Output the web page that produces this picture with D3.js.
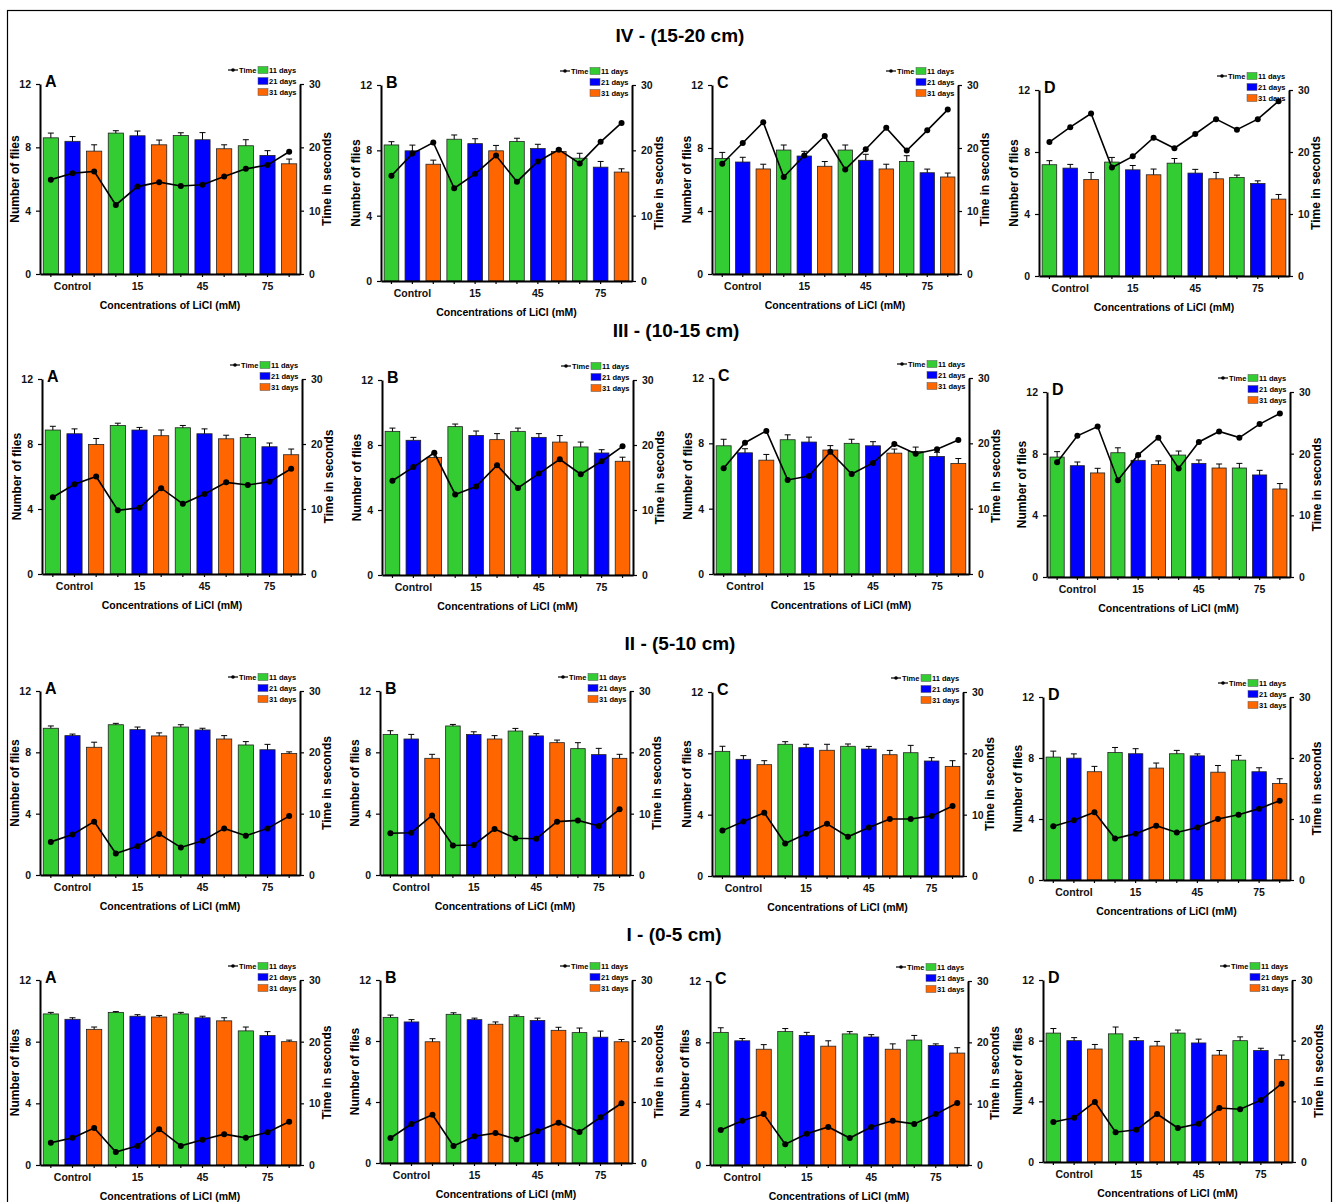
<!DOCTYPE html>
<html>
<head>
<meta charset="utf-8">
<script src="https://cdn.jsdelivr.net/npm/d3@7"></script>
<style>
  body { margin: 0; background: #fff; }
  svg { display: block; font-family: "Liberation Sans", Arial, sans-serif; }
</style>
</head>
<body>
<div id="chart"></div>
<script>
// categories
const concentrations = ['Control', '15', '45', '75'];
const days = ['11 days', '21 days', '31 days'];
const dayColors = ['#33cc33', '#0000ff', '#ff6600'];
const leftTicks = [0, 4, 8, 12];
const rightTicks = [0, 10, 20, 30];
const rowTitles = ['IV - (15-20 cm)', 'III - (10-15 cm)', 'II - (5-10 cm)', 'I - (0-5 cm)'];
const panelLetters = ['A', 'B', 'C', 'D'];

// number of flies, order: Control(11,21,31), 15(...), 45(...), 75(...)
const fliesIV = [
  [8.6, 8.38, 7.76, 8.9, 8.73, 8.16, 8.75, 8.48, 7.91, 8.1, 7.49, 6.96],
  [8.33, 7.97, 7.15, 8.68, 8.41, 7.97, 8.54, 8.11, 7.93, 7.52, 6.97, 6.67],
  [7.34, 7.11, 6.67, 7.87, 7.49, 6.84, 7.87, 7.22, 6.67, 7.15, 6.43, 6.16],
  [7.18, 6.96, 6.23, 7.35, 6.85, 6.53, 7.28, 6.64, 6.27, 6.36, 5.97, 4.96]
];
const errIV = [
  [0.3, 0.3, 0.4, 0.15, 0.3, 0.3, 0.17, 0.45, 0.25, 0.38, 0.3, 0.3],
  [0.2, 0.35, 0.25, 0.26, 0.3, 0.33, 0.2, 0.26, 0.16, 0.3, 0.35, 0.2],
  [0.38, 0.3, 0.3, 0.32, 0.3, 0.3, 0.32, 0.38, 0.3, 0.36, 0.23, 0.25],
  [0.26, 0.24, 0.45, 0.3, 0.28, 0.37, 0.3, 0.24, 0.41, 0.15, 0.17, 0.3]
];
const timeIV = [
  [14.9, 15.9, 16.2, 10.9, 13.8, 14.5, 13.9, 14.1, 15.4, 16.6, 17.2, 19.3],
  [16.1, 19.5, 21.2, 14.2, 16.4, 19.2, 15.2, 18.3, 20.1, 18.0, 21.3, 24.2],
  [17.5, 20.8, 24.1, 15.4, 18.8, 21.9, 16.6, 19.8, 23.2, 19.6, 22.8, 26.1],
  [21.6, 24.0, 26.2, 17.5, 19.3, 22.3, 20.6, 22.9, 25.3, 23.6, 25.3, 28.2]
];

const fliesIII = [
  [8.86, 8.63, 7.97, 9.14, 8.86, 8.51, 9.0, 8.63, 8.32, 8.4, 7.83, 7.34],
  [8.84, 8.29, 7.24, 9.13, 8.59, 8.33, 8.84, 8.47, 8.18, 7.88, 7.51, 7.0],
  [7.85, 7.42, 6.97, 8.22, 8.08, 7.59, 8.0, 7.85, 7.4, 7.5, 7.2, 6.77],
  [7.78, 7.22, 6.75, 8.06, 7.57, 7.29, 7.91, 7.37, 7.07, 7.07, 6.62, 5.71]
];
const errIII = [
  [0.23, 0.3, 0.37, 0.14, 0.16, 0.35, 0.14, 0.3, 0.22, 0.18, 0.23, 0.35],
  [0.2, 0.18, 0.25, 0.16, 0.27, 0.37, 0.2, 0.23, 0.4, 0.3, 0.2, 0.25],
  [0.4, 0.25, 0.35, 0.3, 0.3, 0.27, 0.25, 0.25, 0.25, 0.27, 0.25, 0.3],
  [0.35, 0.24, 0.3, 0.32, 0.24, 0.24, 0.26, 0.22, 0.26, 0.3, 0.3, 0.35]
];
const timeIII = [
  [11.8, 13.8, 15.0, 9.8, 10.2, 13.2, 10.8, 12.3, 14.1, 13.7, 14.2, 16.2],
  [14.5, 16.6, 18.8, 12.4, 13.6, 16.9, 13.4, 15.6, 17.8, 15.5, 17.5, 19.8],
  [16.2, 20.1, 21.9, 14.4, 15.0, 18.7, 15.3, 17.0, 19.9, 18.4, 19.1, 20.5],
  [18.6, 22.9, 24.4, 15.7, 19.8, 22.6, 17.6, 21.9, 23.6, 22.6, 24.8, 26.5]
];

const fliesII = [
  [9.57, 9.09, 8.33, 9.8, 9.48, 9.07, 9.65, 9.46, 8.87, 8.48, 8.17, 7.93],
  [9.17, 8.87, 7.61, 9.72, 9.17, 8.87, 9.39, 9.07, 8.63, 8.24, 7.85, 7.61],
  [8.13, 7.61, 7.26, 8.59, 8.37, 8.2, 8.46, 8.28, 7.91, 8.04, 7.5, 7.15],
  [8.06, 7.99, 7.1, 8.36, 8.28, 7.34, 8.28, 8.14, 7.07, 7.86, 7.1, 6.33]
];
const errII = [
  [0.15, 0.1, 0.33, 0.09, 0.17, 0.2, 0.15, 0.11, 0.22, 0.22, 0.35, 0.1],
  [0.24, 0.3, 0.26, 0.1, 0.17, 0.22, 0.17, 0.15, 0.17, 0.39, 0.41, 0.26],
  [0.33, 0.24, 0.26, 0.17, 0.22, 0.39, 0.15, 0.17, 0.28, 0.48, 0.22, 0.37],
  [0.39, 0.28, 0.35, 0.33, 0.33, 0.33, 0.22, 0.13, 0.44, 0.31, 0.26, 0.31]
];
const timeII = [
  [5.4, 6.6, 8.7, 3.5, 4.7, 6.7, 4.5, 5.6, 7.6, 6.4, 7.6, 9.6],
  [6.8, 6.9, 9.7, 4.8, 4.9, 7.5, 6.0, 5.9, 8.7, 8.9, 8.0, 10.7],
  [7.4, 8.9, 10.3, 5.3, 6.9, 8.5, 6.4, 7.9, 9.3, 9.3, 9.8, 11.4],
  [8.8, 9.8, 11.1, 6.8, 7.6, 8.9, 7.8, 8.6, 10.0, 10.7, 11.7, 13.0]
];

const fliesI = [
  [9.8, 9.45, 8.8, 9.9, 9.65, 9.6, 9.8, 9.55, 9.35, 8.7, 8.4, 8.0],
  [9.55, 9.25, 7.95, 9.75, 9.4, 9.1, 9.6, 9.35, 8.7, 8.55, 8.25, 7.95],
  [8.65, 8.1, 7.55, 8.7, 8.45, 7.75, 8.55, 8.35, 7.55, 8.15, 7.8, 7.3],
  [8.5, 8.0, 7.45, 8.45, 8.0, 7.65, 8.5, 7.85, 7.05, 8.0, 7.35, 6.75]
];
const errI = [
  [0.1, 0.1, 0.15, 0.05, 0.1, 0.1, 0.1, 0.1, 0.2, 0.25, 0.25, 0.1],
  [0.15, 0.15, 0.2, 0.1, 0.1, 0.15, 0.1, 0.15, 0.2, 0.3, 0.4, 0.15],
  [0.3, 0.15, 0.3, 0.2, 0.2, 0.35, 0.15, 0.15, 0.35, 0.3, 0.1, 0.35],
  [0.3, 0.2, 0.3, 0.45, 0.2, 0.3, 0.2, 0.25, 0.3, 0.25, 0.15, 0.3]
];
const timeI = [
  [3.6, 4.4, 6.0, 2.1, 3.1, 5.8, 3.1, 4.1, 5.0, 4.4, 5.3, 7.0],
  [4.1, 6.4, 7.9, 2.8, 4.4, 4.9, 3.9, 5.2, 6.6, 5.1, 7.5, 9.8],
  [5.7, 7.2, 8.3, 3.4, 5.1, 6.2, 4.4, 6.2, 7.2, 6.7, 8.3, 10.1],
  [6.6, 7.3, 9.9, 4.9, 5.3, 7.9, 5.6, 6.3, 8.9, 8.7, 10.2, 12.9]
];

const rowsFlies = [fliesIV, fliesIII, fliesII, fliesI];
const rowsErr = [errIV, errIII, errII, errI];
const rowsTime = [timeIV, timeIII, timeII, timeI];

// layout: [left axis x, right axis x, y of 0, y of top]
const panelFrames = [
  [[40, 300, 274, 84], [381, 632, 281, 85], [712, 958, 274, 85], [1039, 1289, 276, 90]],
  [[42, 302, 574, 379], [382, 633, 575, 380], [713, 969, 574, 378], [1047, 1290, 577, 392]],
  [[40, 300, 875, 691], [380, 630, 875, 691], [712, 963, 876, 692], [1043, 1290, 880, 697]],
  [[40, 300, 1165, 980], [380, 632, 1163, 980], [710, 968, 1165, 981], [1043, 1292, 1162, 980]]
];
const titlePos = [[680, 42], [676, 337], [680, 650], [674, 941]];

const W = 1336, H = 1202;
const svg = d3.select('#chart').append('svg')
  .attr('width', W)
  .attr('height', H);

svg.append('rect')
  .attr('x', 7.5).attr('y', 10.5)
  .attr('width', 1324).attr('height', 1200)
  .attr('fill', 'none')
  .attr('stroke', '#000')
  .attr('stroke-width', 1.2);

rowTitles.forEach((t, r) => {
  svg.append('text')
    .attr('x', titlePos[r][0])
    .attr('y', titlePos[r][1])
    .attr('text-anchor', 'middle')
    .style('font-size', '19px')
    .style('font-weight', 'bold')
    .text(t);
});

const drawPanel = (r, p) => {
  let [left, right, y0, yTop] = panelFrames[r][p];
  let flies = rowsFlies[r][p];
  let err = rowsErr[r][p];
  let time = rowsTime[r][p];
  let idx = d3.range(flies.length);

  let x = d3.scaleBand()
    .domain(idx)
    .range([left, right])
    .paddingInner(0.3)
    .paddingOuter(0.15);
  let yL = d3.scaleLinear().domain([0, 12]).range([y0, yTop]);
  let yR = d3.scaleLinear().domain([0, 30]).range([y0, yTop]);

  let g = svg.append('g').attr('class', 'panel');

  // bars
  g.selectAll('.bar')
    .data(idx)
    .enter().append('rect')
    .attr('class', 'bar')
    .attr('x', i => x(i))
    .attr('y', i => yL(flies[i]))
    .attr('width', x.bandwidth())
    .attr('height', i => y0 - yL(flies[i]))
    .attr('fill', i => dayColors[i % 3])
    .attr('stroke', '#222')
    .attr('stroke-width', 0.8);

  // error bars
  let cx = i => x(i) + x.bandwidth() / 2;
  g.selectAll('.err')
    .data(idx)
    .enter().append('path')
    .attr('class', 'err')
    .attr('d', i => {
      let top = yL(flies[i] + err[i]);
      return `M${cx(i)},${yL(flies[i])}V${top}M${cx(i) - 3},${top}H${cx(i) + 3}`;
    })
    .attr('stroke', '#000')
    .attr('stroke-width', 1)
    .attr('fill', 'none');

  // axes
  let axL = g.append('g')
    .attr('transform', `translate(${left},0)`)
    .call(d3.axisLeft(yL).tickValues(leftTicks).tickSize(4).tickSizeOuter(0).tickPadding(5));
  let axR = g.append('g')
    .attr('transform', `translate(${right},0)`)
    .call(d3.axisRight(yR).tickValues(rightTicks).tickSize(4).tickSizeOuter(0).tickPadding(5));
  let axB = g.append('g')
    .attr('transform', `translate(0,${y0})`)
    .call(d3.axisBottom(x)
      .tickSize(3)
      .tickSizeOuter(0)
      .tickPadding(6)
      .tickFormat(i => (i % 3 === 1 ? concentrations[Math.floor(i / 3)] : '')));

  [axL, axR, axB].forEach(ax => {
    ax.select('.domain').attr('stroke-width', 2);
    ax.selectAll('.tick line').attr('stroke-width', 1.2);
    ax.selectAll('text')
      .style('font-size', '10.5px')
      .style('font-weight', 'bold')
      .style('font-family', '"Liberation Sans", Arial, sans-serif')
      .attr('fill', '#111');
  });

  // time line
  let line = d3.line()
    .x(i => cx(i))
    .y(i => yR(time[i]));
  g.append('path')
    .datum(idx)
    .attr('d', line)
    .attr('fill', 'none')
    .attr('stroke', '#000')
    .attr('stroke-width', 1.6);
  g.selectAll('.pt')
    .data(idx)
    .enter().append('circle')
    .attr('class', 'pt')
    .attr('cx', i => cx(i))
    .attr('cy', i => yR(time[i]))
    .attr('r', 3)
    .attr('fill', '#000');

  // axis titles
  g.append('text')
    .attr('transform', `translate(${left - 21},${(y0 + yTop) / 2}) rotate(-90)`)
    .attr('text-anchor', 'middle')
    .style('font-size', '12px')
    .style('font-weight', 'bold')
    .text('Number of flies');
  g.append('text')
    .attr('transform', `translate(${right + 31},${(y0 + yTop) / 2}) rotate(-90)`)
    .attr('text-anchor', 'middle')
    .style('font-size', '12px')
    .style('font-weight', 'bold')
    .text('Time in seconds');
  g.append('text')
    .attr('x', (left + right) / 2)
    .attr('y', y0 + 35)
    .attr('text-anchor', 'middle')
    .style('font-size', '10.5px')
    .style('font-weight', 'bold')
    .text('Concentrations of LiCl (mM)');

  // panel letter
  g.append('text')
    .attr('x', left + 5)
    .attr('y', yTop + 3)
    .style('font-size', '16px')
    .style('font-weight', 'bold')
    .text(panelLetters[p]);

  // legend
  let lg = g.append('g').attr('transform', `translate(${right - 72},${yTop - 14})`);
  lg.append('line')
    .attr('x1', 0).attr('x2', 10)
    .attr('y1', 0).attr('y2', 0)
    .attr('stroke', '#000').attr('stroke-width', 1.2);
  lg.append('circle').attr('cx', 5).attr('cy', 0).attr('r', 1.8).attr('fill', '#000');
  lg.append('text')
    .attr('x', 11).attr('y', 3)
    .style('font-size', '7.5px')
    .style('font-weight', 'bold')
    .text('Time');
  days.forEach((d, k) => {
    lg.append('rect')
      .attr('x', 30).attr('y', k * 11 - 3.5)
      .attr('width', 10).attr('height', 7)
      .attr('fill', dayColors[k])
      .attr('stroke', '#555').attr('stroke-width', 0.5);
    lg.append('text')
      .attr('x', 41).attr('y', k * 11 + 3)
      .style('font-size', '7.5px')
      .style('font-weight', 'bold')
      .text(d);
  });
};

rowTitles.forEach((t, r) => {
  panelLetters.forEach((l, p) => drawPanel(r, p));
});
</script>
</body>
</html>
